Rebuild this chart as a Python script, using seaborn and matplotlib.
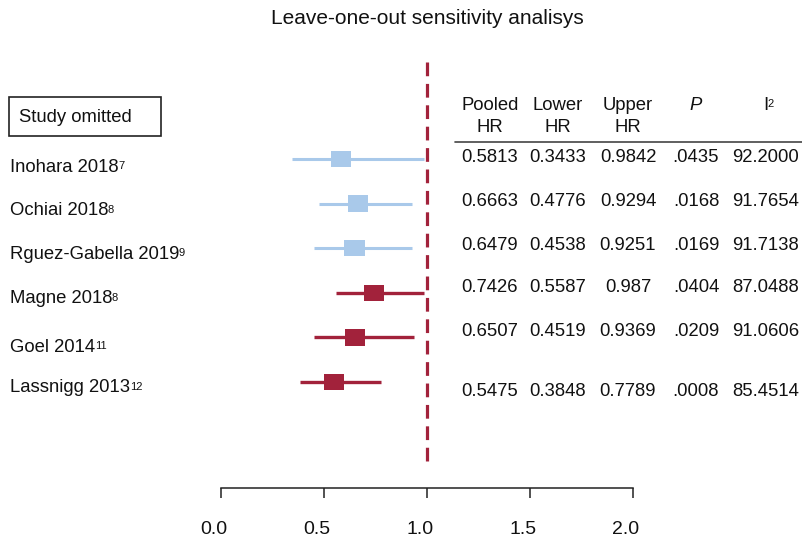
import matplotlib
matplotlib.use("Agg")
import matplotlib.pyplot as plt
import matplotlib.transforms as mtransforms
from matplotlib.patches import Rectangle
import seaborn as sns
import pandas as pd

# ---------------- data ----------------
studies = ["Inohara 2018", "Ochiai 2018", "Rguez-Gabella 2019", "Magne 2018", "Goel 2014", "Lassnigg 2013"]
refs = ["7", "8", "9", "8", "11", "12"]
pooled_hr = [0.5813, 0.6663, 0.6479, 0.7426, 0.6507, 0.5475]
lower_hr = [0.3433, 0.4776, 0.4538, 0.5587, 0.4519, 0.3848]
upper_hr = [0.9842, 0.9294, 0.9251, 0.987, 0.9369, 0.7789]
p_values = [".0435", ".0168", ".0169", ".0404", ".0209", ".0008"]
i2_values = ["92.2000", "91.7654", "91.7138", "87.0488", "91.0606", "85.4514"]
pooled_txt = ["0.5813", "0.6663", "0.6479", "0.7426", "0.6507", "0.5475"]
lower_txt = ["0.3433", "0.4776", "0.4538", "0.5587", "0.4519", "0.3848"]
upper_txt = ["0.9842", "0.9294", "0.9251", "0.987", "0.9369", "0.7789"]
groups = ["A", "A", "A", "B", "B", "B"]
xticks = [0.0, 0.5, 1.0, 1.5, 2.0]
xticklabels = ["0.0", "0.5", "1.0", "1.5", "2.0"]
col_headers = ["Pooled\nHR", "Lower\nHR", "Upper\nHR", "P", "I"]

BLUE = "#A9C9EA"
RED = "#A2223B"
TXT = "#111111"
palette = {"A": BLUE, "B": RED}

df = pd.DataFrame({
    "study": studies, "hr": pooled_hr, "lo": lower_hr, "hi": upper_hr,
    "group": groups, "row": list(range(len(studies))),
})

# ---------------- style ----------------
sns.set_theme(style="white")
plt.rcParams["font.family"] = ["Liberation Sans", "DejaVu Sans"]

W, H = 803, 539
fig = plt.figure(figsize=(W / 100, H / 100), dpi=100)
fig.patch.set_facecolor("white")
renderer = fig.canvas.get_renderer()


def fx(x):
    return x / W


def fy(y):
    return (H - y) / H


def sup_text(x, y, main, sup, size, sup_size=8, ha="left"):
    t = fig.text(fx(x), fy(y), main, ha=ha, va="center", fontsize=size, color=TXT)
    bb = t.get_window_extent(renderer=renderer)
    xr = bb.x1 - 0.5
    ytop = bb.y1 - 2.5
    fig.text(xr / W, ytop / H, sup, ha="left", va="top", fontsize=sup_size, color=TXT)
    return t


# main axes: x 0..2 maps to px 221..633, bottom spine at px 488
ax = fig.add_axes([fx(221), fy(488), (633 - 221) / W, (488 - 62) / H])
row0, step = 159.0, 44.6
ax.set_xlim(0, 2)
ax.set_ylim((488 - row0) / step, (62 - row0) / step)

# CI lines
for g, lw in (("A", 2.2), ("B", 2.4)):
    sub = df[df.group == g]
    ax.hlines(sub["row"], sub["lo"], sub["hi"], colors=palette[g], lw=lw, zorder=2)

# point estimates (rectangular markers)
verts = [(-10, -8), (10, -8), (10, 8), (-10, 8), (-10, -8)]
sns.scatterplot(data=df, x="hr", y="row", hue="group", palette=palette,
                marker=verts, s=215, edgecolor="none", linewidth=0,
                legend=False, ax=ax, zorder=3)

# reference line at HR = 1
ax.vlines(1.0, (62 - row0) / step, (468 - row0) / step, colors=RED, lw=2.3,
          linestyles=(0, (4.3, 2.4)), zorder=4, clip_on=False)

# axis styling
for side in ("top", "right", "left"):
    ax.spines[side].set_visible(False)
ax.spines["bottom"].set_color("#222222")
ax.spines["bottom"].set_linewidth(1.1)
ax.set_yticks([])
ax.set_xticks(xticks)
ax.set_xticklabels(xticklabels, fontsize=14, color=TXT)
ax.tick_params(axis="x", direction="out", length=7.5, width=1.1, color="#222222",
               pad=16, bottom=True)
offset = mtransforms.ScaledTranslation(-7 / 100, 0, fig.dpi_scale_trans)
for lab in ax.get_xticklabels():
    lab.set_transform(lab.get_transform() + offset)
ax.set_xlabel("")
ax.set_ylabel("")
ax.set_facecolor("none")

# title
fig.text(fx(427), fy(19), "Leave-one-out sensitivity analisys", ha="center",
         va="center", fontsize=15, color=TXT)

# "Study omitted" box
fig.patches.append(Rectangle((fx(9), fy(136)), fx(161) - fx(9), fy(97) - fy(136),
                             transform=fig.transFigure, fill=False,
                             edgecolor="#222222", lw=1.2))
fig.text(fx(19), fy(118), "Study omitted", ha="left", va="center",
         fontsize=13.3, color=TXT)

# study labels
label_dy = [8, 7, 6, 6, 10, 6]
for i, (s, r) in enumerate(zip(studies, refs)):
    y = row0 + i * step + label_dy[i]
    sup_text(10, y, s, r, 13.3)

# table
col_x = [490, 558, 628, 696, 766]
for c in range(3):
    fig.text(fx(col_x[c]), fy(116.5), col_headers[c], ha="center", va="center",
             fontsize=13.3, color=TXT, linespacing=1.38)
fig.text(fx(col_x[3]), fy(105), col_headers[3], ha="center", va="center",
         fontsize=13.3, color=TXT, style="italic")
sup_text(col_x[4] - 3, 105, col_headers[4], "2", 13.3, sup_size=8)
fig.add_artist(plt.Line2D([fx(455), fx(803)], [fy(142), fy(142)],
                          color="#444444", lw=1.2))

table_y = [158, 202, 245, 288, 332, 391]
cols = [pooled_txt, lower_txt, upper_txt, p_values, i2_values]
for c, vals in enumerate(cols):
    for r, v in enumerate(vals):
        fig.text(fx(col_x[c]), fy(table_y[r]), v, ha="center", va="center",
                 fontsize=13.3, color=TXT)

fig.savefig("out.png", dpi=100, facecolor="white")
